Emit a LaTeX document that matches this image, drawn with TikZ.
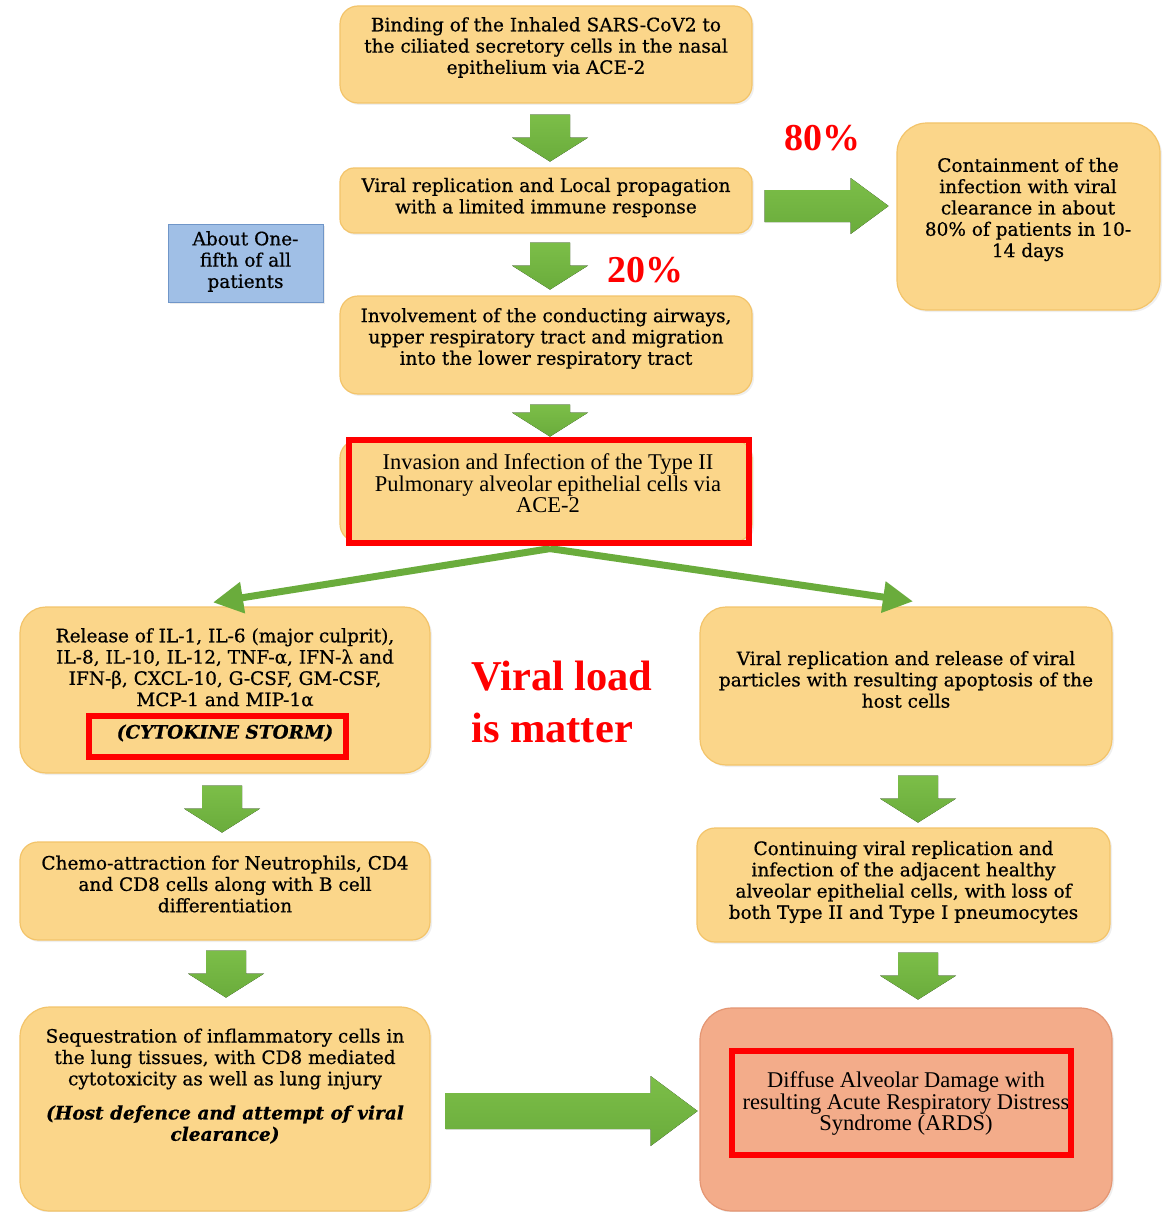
\documentclass[tikz,border=0pt]{standalone}
\usepackage{fontspec}
\setmainfont{DejaVu Serif}[RawFeature={embolden=0.6}]
\newfontfamily\timesf{Liberation Serif}
\usetikzlibrary{shadows,arrows.meta,calc}
\definecolor{boxfill}{RGB}{251,214,138}
\definecolor{boxline}{RGB}{243,196,106}
\definecolor{salmon}{RGB}{243,172,138}
\definecolor{salmonline}{RGB}{228,150,115}
\definecolor{bluefill}{RGB}{160,191,230}
\definecolor{blueline}{RGB}{112,150,200}
\definecolor{grn}{RGB}{106,172,60}
\definecolor{grnlight}{RGB}{124,190,72}
\definecolor{redc}{RGB}{255,0,0}
\begin{document}
\begin{tikzpicture}[x=1pt,y=-1pt,
  box/.style={draw=boxline, line width=1.2pt, fill=boxfill, rounded corners=18pt,
    drop shadow={opacity=0.12, shadow xshift=2pt, shadow yshift=-2pt}},
  pinkbox/.style={box, draw=salmonline, fill=salmon, rounded corners=32pt},
  bluebox/.style={draw=blueline, line width=1pt, fill=bluefill,
    drop shadow={opacity=0.15, shadow xshift=2pt, shadow yshift=-2pt}},
  txt/.style={align=center, inner sep=0pt, font=\fontsize{18.5}{21.3}\selectfont},
  ttxt/.style={align=center, inner sep=0pt, font=\timesf\fontsize{22.5}{21.5}\selectfont},
  bitxt/.style={txt, font=\fontsize{18.5}{21.3}\selectfont\bfseries\itshape},
  redlbl/.style={text=redc, inner sep=0pt, font=\timesf\bfseries\fontsize{38}{40}\selectfont},
  bigred/.style={text=redc, inner sep=0pt, align=left, font=\timesf\bfseries\fontsize{42.5}{52}\selectfont},
  redframe/.style={draw=redc, line width=6pt, fill=none},
  garrow/.style={top color=grnlight, bottom color=grn, draw=none},
  gline/.style={draw=grn, line width=7pt, -{Triangle[length=30pt,width=30pt]}},
  pics/gdown/.style={code={\fill[garrow] (-20,0) -- (20,0) -- (20,#1) -- (38,#1) -- (0,#1+24) -- (-38,#1) -- (-20,#1) -- cycle;}},
  pics/gright/.style args={#1/#2/#3/#4}{code={\fill[garrow] (0,-#2) -- (#1,-#2) -- (#1,-#3) -- (#1+#4,0) -- (#1,#3) -- (#1,#2) -- (0,#2) -- cycle;}}
]
\fill[white] (0,0) rectangle (1166,1212);
\useasboundingbox (0,0) rectangle (1166,1212);
\clip (0,0) rectangle (1166,1212);

% boxes
\node[box, minimum width=412pt, minimum height=97pt] (b1) at (546,54.5) {};
\node[box, minimum width=412pt, minimum height=65pt, rounded corners=14pt] (b2) at (546,200.5) {};
\node[box, minimum width=263pt, minimum height=187pt, rounded corners=30pt] (b3) at (1028.5,216.5) {};
\node[bluebox, minimum width=155pt, minimum height=78pt] (bl) at (245.5,263) {};
\node[box, minimum width=412pt, minimum height=98pt] (b4) at (546,345) {};
\node[box, minimum width=412pt, minimum height=102pt] (b5) at (546,491) {};
\node[box, minimum width=410pt, minimum height=166pt, rounded corners=26pt] (b6) at (225,690) {};
\node[box, minimum width=412pt, minimum height=158pt, rounded corners=26pt] (b7) at (906,686) {};
\node[box, minimum width=410pt, minimum height=98pt] (b8) at (225,891) {};
\node[box, minimum width=413pt, minimum height=114pt] (b9) at (903.5,885) {};
\node[box, minimum width=410pt, minimum height=204pt, rounded corners=30pt] (b10) at (225,1109) {};
\node[pinkbox, minimum width=412pt, minimum height=203pt] (b11) at (906,1109.5) {};

% texts
\node[txt] (t1) at (546,47.5) {Binding of the Inhaled SARS-CoV2 to\\the ciliated secretory cells in the nasal\\epithelium via ACE-2};
\node[txt] (t2) at (546,197.5) {Viral replication and Local propagation\\with a limited immune response};
\node[txt] (t3) at (1028,209.5) {Containment of the\\infection with viral\\clearance in about\\80\% of patients in 10-\\14 days};
\node[txt] (tb) at (245.5,261.5) {About One-\\fifth of all\\patients};
\node[txt] (t4) at (546,338.5) {Involvement of the conducting airways,\\upper respiratory tract and migration\\into the lower respiratory tract};
\node[ttxt] (t5) at (548,483.5) {Invasion and Infection of the Type II\\Pulmonary alveolar epithelial cells via\\ACE-2};
\node[txt] (t6) at (225,667.5) {Release of IL-1, IL-6 (major culprit),\\IL-8, IL-10, IL-12, TNF-α, IFN-λ and\\IFN-β, CXCL-10, G-CSF, GM-CSF,\\MCP-1 and MIP-1α};
\node[bitxt] (t6b) at (225,733) {(CYTOKINE STORM)};
\node[txt] (t7) at (906,679.5) {Viral replication and release of viral\\particles with resulting apoptosis of the\\host cells};
\node[txt] (t8) at (225,884) {Chemo-attraction for Neutrophils, CD4\\and CD8 cells along with B cell\\differentiation};
\node[txt] (t9) at (903.5,882) {Continuing viral replication and\\infection of the adjacent healthy\\alveolar epithelial cells, with loss of\\both Type II and Type I pneumocytes};
\node[txt] (t10) at (225,1059) {Sequestration of inflammatory cells in\\the lung tissues, with CD8 mediated\\cytotoxicity as well as lung injury};
\node[bitxt] (t10b) at (225,1124.5) {(Host defence and attempt of viral\\clearance)};
\node[ttxt] (t11) at (906,1103.5) {Diffuse Alveolar Damage with\\resulting Acute Respiratory Distress\\Syndrome (ARDS)};

% block arrows
\pic at ($(b1.south)+(4,11)$) {gdown=23};
\pic at ($(b2.south)+(4,9)$) {gdown=23};
\pic at ($(b4.south)+(4,10)$) {gdown=8};
\pic at ($(b6.south)+(-3,12)$) {gdown=23};
\pic at ($(b8.south)+(1,10)$) {gdown=23};
\pic at ($(b7.south)+(12,10)$) {gdown=23};
\pic at ($(b9.south)+(14.5,10)$) {gdown=23};
\pic at ($(b2.east)+(12,5.5)$) {gright=86/16/28/38};
\pic at ($(b10.east)+(15,2)$) {gright=205/18/35/47};

% diagonal arrows
\draw[gline] ($(b5.south)+(4,6)$) -- ($(b6.north)+(-12,-4)$);
\draw[gline] ($(b5.south)+(4,6)$) -- ($(b7.north)+(7,-5)$);

% red frames
\node[redframe, minimum width=400pt, minimum height=103pt] (f1) at (549,491.5) {};
\node[redframe, minimum width=257pt, minimum height=41pt] (f2) at (217.5,736.5) {};
\node[redframe, minimum width=339pt, minimum height=104pt] (f3) at (901.5,1103) {};

% red labels
\node[redlbl] (p80) at (822,138) {80\%};
\node[redlbl] (p20) at (645,270) {20\%};
\node[bigred, anchor=west] (vl) at (471,702) {Viral load\\is matter};
\end{tikzpicture}
\end{document}
